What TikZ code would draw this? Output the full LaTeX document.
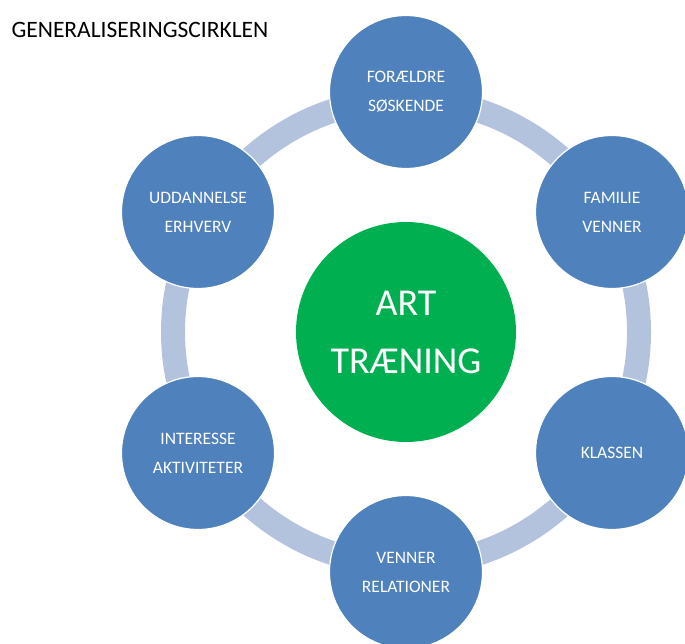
\documentclass[tikz,border=0pt]{standalone}
\usepackage{fontspec}
\setmainfont{Carlito}
\usetikzlibrary{positioning}
\definecolor{spokeblue}{HTML}{4F81BD}
\definecolor{artgreen}{HTML}{00B050}
\definecolor{ringblue}{HTML}{B3C3DD}
\tikzset{
  hub/.style={circle, minimum size = 220pt, inner sep=0pt, fill=artgreen, text=white, align=center, font=\fontsize{38}{58}\selectfont},
  area/.style={circle, minimum size = 153pt, inner sep=0pt, fill=spokeblue, draw=white, line width=1.2pt, text=white, align=center, font=\fontsize{17.5}{29}\selectfont},
  ring/.style={draw=ringblue, line width=24pt}
}

\begin{document}
\begin{tikzpicture}[x=1pt, y=-1pt]
  \useasboundingbox (0,0) rectangle (685,644);
  \node[anchor=west, font=\fontsize{23.5}{24}\selectfont] (title) at (8,30) {GENERALISERINGSCIRKLEN};

  \coordinate (mid) at (406,332);
  \draw[ring] (mid) circle (233pt);

  \node[hub] (art) at (mid) {ART\\TRÆNING};
  \node[area] (foraeldre) at (406,92) {FORÆLDRE\\SØSKENDE};
  \node[area] (familie) at (612,212) {FAMILIE\\VENNER};
  \node[area] (klassen) at (612,453) {KLASSEN};
  \node[area] (relationer) at (406,572) {VENNER\\RELATIONER};
  \node[area] (interesse) at (198,453) {INTERESSE\\AKTIVITETER};
  \node[area] (uddannelse) at (198,212) {UDDANNELSE\\ERHVERV};

\end{tikzpicture}
\end{document}
